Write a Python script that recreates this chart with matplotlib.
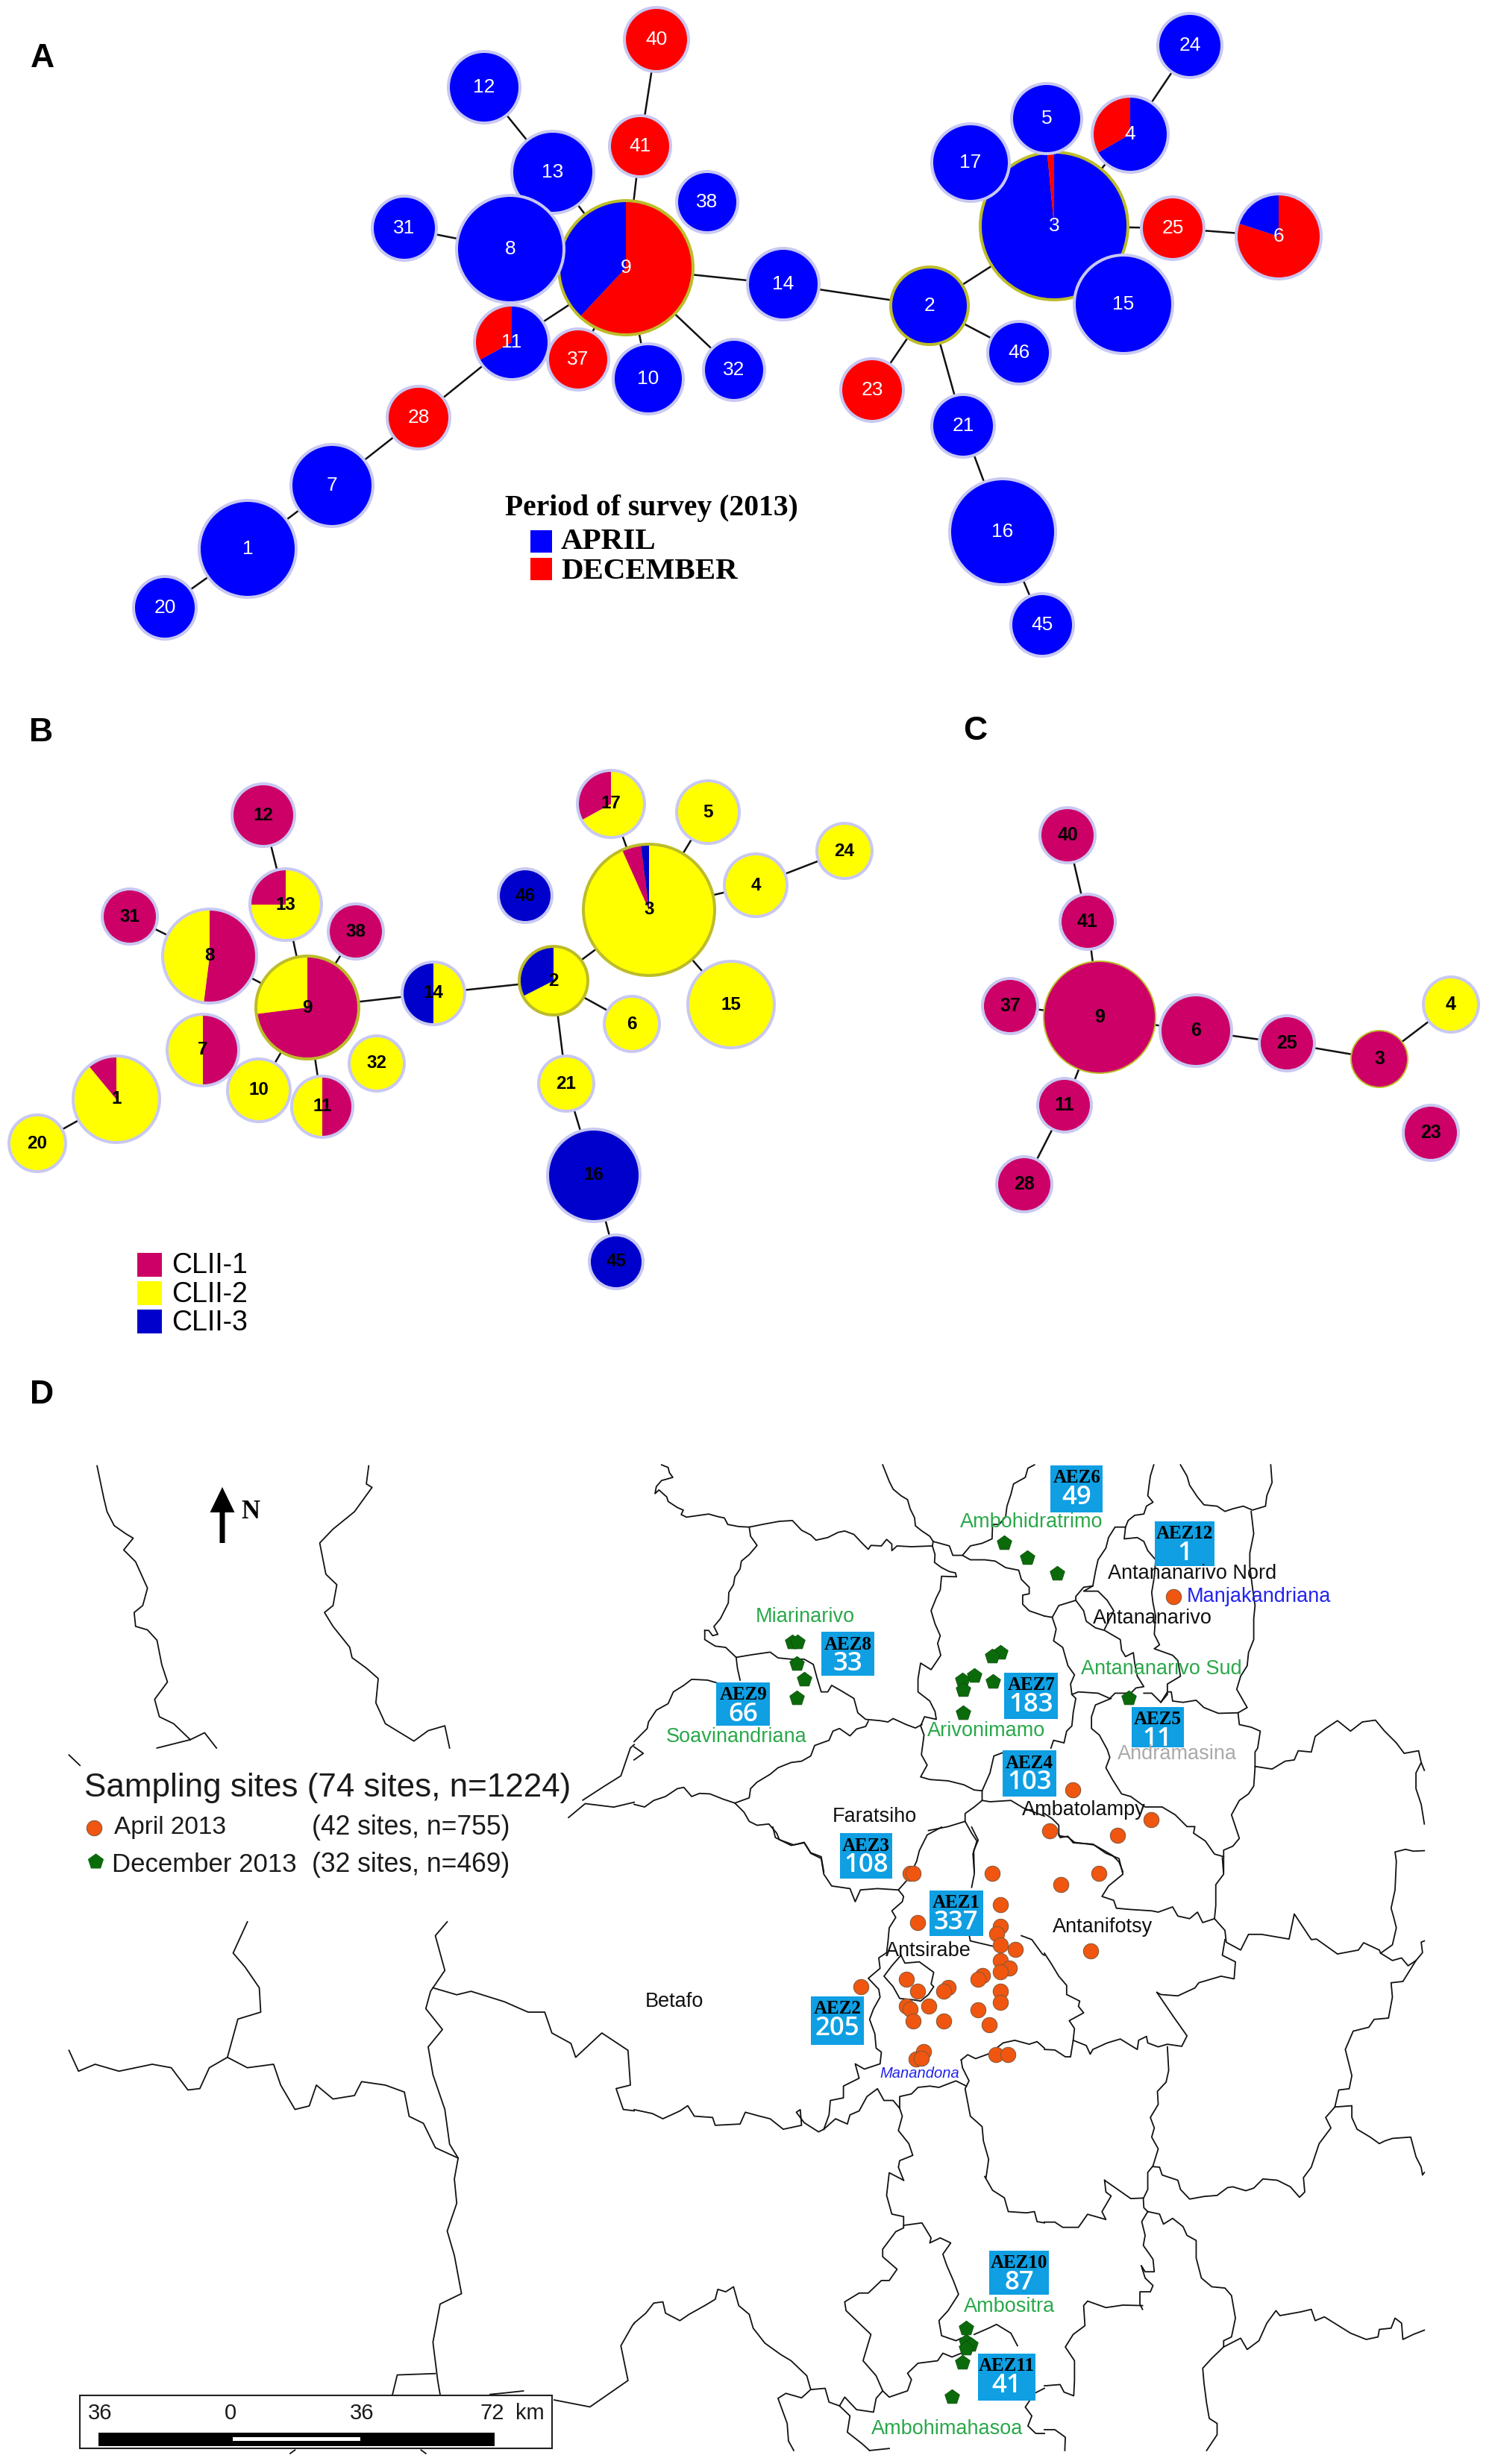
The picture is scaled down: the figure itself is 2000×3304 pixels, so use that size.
import matplotlib
matplotlib.use('Agg')
import matplotlib.pyplot as plt
from matplotlib.patches import Wedge, Circle, Rectangle, FancyArrow

BLUE = '#0000ff'
RED = '#ff0000'
MAGENTA = '#cc0066'
YELLOW = '#ffff00'
DKBLUE = '#0000cc'
RING = '#c8c8f2'
HUB = '#bcbc2a'
AEZ_BLUE = '#0f9fe2'
GREEN_TXT = '#2aa84a'

# ---------------------------------------------------------------- panel A
a_ids = [9, 13, 8, 11, 37, 10, 32, 31, 12, 41, 40, 38, 14, 28, 7, 1, 20,
         3, 5, 17, 4, 24, 25, 6, 15, 2, 46, 23, 21, 16, 45]
a_x = [839, 741, 684, 686, 775, 869, 984, 542, 649, 858, 880, 948, 1050, 561, 445, 332, 221,
       1413, 1403, 1301, 1515, 1595, 1572, 1714, 1506, 1246, 1366, 1169, 1291, 1344, 1397]
a_y = [359, 231, 334, 459, 482, 508, 496, 306, 117, 196, 53, 271, 381, 560, 651, 736, 815,
       303, 159, 218, 180, 61, 306, 317, 408, 410, 473, 523, 571, 713, 838]
a_r = [92, 57, 74, 52, 43, 49, 43, 45, 50, 43, 45, 43, 50, 44, 57, 67, 44,
       101, 49, 54, 53, 45, 44, 59, 68, 54, 44, 44, 44, 73, 44]
a_hubs = [9, 3, 2]
a_parts = {9: [(RED, .62), (BLUE, .38)],
           11: [(BLUE, .67), (RED, .33)],
           3: [(BLUE, .985), (RED, .015)],
           4: [(BLUE, .667), (RED, .333)],
           6: [(RED, .8), (BLUE, .2)],
           41: [(RED, 1)], 40: [(RED, 1)], 37: [(RED, 1)], 28: [(RED, 1)],
           25: [(RED, 1)], 23: [(RED, 1)]}
a_edges = [(20, 1), (1, 7), (7, 28), (28, 11), (11, 9), (9, 37), (9, 10), (9, 32), (9, 41),
           (41, 40), (9, 13), (13, 12), (8, 31), (8, 9), (9, 14), (14, 2), (2, 3), (2, 23),
           (2, 46), (2, 21), (21, 16), (16, 45), (3, 25), (25, 6), (3, 4), (4, 24), (3, 15),
           (3, 5), (3, 17)]

# ---------------------------------------------------------------- panel B
b_ids = [9, 13, 12, 38, 8, 31, 7, 10, 11, 32, 1, 20, 14, 46, 3, 17, 5, 4, 24, 15, 2, 6, 21, 16, 45]
b_x = [412, 383, 353, 477, 281, 174, 272, 347, 432, 505, 156, 50, 581, 704,
       870, 819, 949, 1013, 1132, 980, 742, 847, 759, 796, 826]
b_y = [1351, 1213, 1093, 1249, 1282, 1229, 1408, 1462, 1484, 1426, 1474, 1533, 1332, 1201,
       1220, 1078, 1089, 1187, 1141, 1347, 1315, 1373, 1453, 1576, 1692]
b_r = [71, 50, 44, 39, 65, 39, 50, 44, 43, 39, 60, 40, 44, 38, 90, 47, 44, 44, 39, 60, 48, 39, 39, 64, 38]
b_hubs = [9, 3, 2]
b_parts = {1: [(YELLOW, .89), (MAGENTA, .11)],
           7: [(MAGENTA, .5), (YELLOW, .5)],
           11: [(MAGENTA, .5), (YELLOW, .5)],
           9: [(MAGENTA, .73), (YELLOW, .27)],
           8: [(MAGENTA, .52), (YELLOW, .48)],
           13: [(YELLOW, .75), (MAGENTA, .25)],
           14: [(YELLOW, .5), (DKBLUE, .5)],
           2: [(YELLOW, .675), (DKBLUE, .325)],
           3: [(YELLOW, .933), (MAGENTA, .047), (DKBLUE, .02)],
           17: [(YELLOW, .67), (MAGENTA, .33)],
           12: [(MAGENTA, 1)], 31: [(MAGENTA, 1)], 38: [(MAGENTA, 1)],
           46: [(DKBLUE, 1)], 16: [(DKBLUE, 1)], 45: [(DKBLUE, 1)]}
b_edges = [(20, 1), (8, 31), (8, 9), (9, 13), (13, 12), (9, 38), (9, 10), (9, 11), (9, 14),
           (14, 2), (2, 3), (2, 6), (2, 21), (21, 16), (16, 45), (3, 17), (3, 5), (3, 4),
           (4, 24), (3, 15)]

# ---------------------------------------------------------------- panel C
c_ids = [9, 40, 41, 37, 6, 25, 3, 4, 23, 11, 28]
c_x = [1474, 1431, 1458, 1354, 1603, 1725, 1849, 1945, 1918, 1427, 1373]
c_y = [1364, 1120, 1236, 1349, 1382, 1399, 1420, 1347, 1519, 1482, 1588]
c_r = [76, 39, 39, 39, 50, 39, 39, 39, 39, 38, 39]
c_parts = {i: [(MAGENTA, 1)] for i in c_ids}
c_parts[4] = [(YELLOW, 1)]
c_edges = [(9, 41), (41, 40), (9, 37), (9, 6), (6, 25), (25, 3), (3, 4), (9, 11), (11, 28)]

# ---------------------------------------------------------------- panel D
# boundaries traced off crops of the map, each crop has its own origin and scale (see crops)
west_lines = [
    [(204, 124), (218, 170), (225, 190), (240, 210), (265, 222), (280, 228), (260, 245), (285, 262),
     (310, 300), (300, 325), (282, 335), (285, 355), (310, 360), (330, 375), (340, 410), (352, 435),
     (325, 460), (335, 485), (365, 495), (400, 518)],
    [(330, 530), (400, 518), (430, 508), (455, 530)],
    [(775, 124), (770, 150), (782, 155), (745, 190), (700, 215), (672, 235), (685, 280), (708, 295),
     (700, 325), (682, 335), (700, 355), (735, 385), (740, 400), (770, 415), (795, 430), (790, 465),
     (810, 495), (870, 520), (900, 505), (935, 498), (945, 530)],
    [(145, 540), (168, 555)],
    [(1225, 605), (1270, 585), (1305, 570), (1325, 530), (1333, 525)],
    [(1195, 630), (1230, 610), (1290, 615), (1333, 608)],
    [(520, 780), (490, 825), (515, 845), (545, 875), (548, 910), (500, 920), (478, 975)],
    [(145, 965), (165, 995), (200, 985), (250, 995), (320, 985), (360, 990), (395, 1022), (420, 1020),
     (440, 990), (478, 975), (520, 990), (575, 985), (590, 1015), (620, 1050), (650, 1045), (665, 1015),
     (700, 1035), (745, 1030), (760, 1010), (810, 1015), (850, 1025), (860, 1060), (890, 1070),
     (915, 1105), (963, 1120)],
    [(940, 780), (915, 800), (935, 850), (905, 880), (895, 905), (930, 935), (900, 960), (910, 1000),
     (935, 1050), (945, 1100), (963, 1120), (955, 1150), (960, 1185), (940, 1225), (955, 1260),
     (970, 1315), (925, 1330), (910, 1385), (920, 1440), (925, 1460)],
    [(910, 875), (960, 885), (990, 880), (1060, 895), (1110, 910), (1145, 910), (1160, 940), (1200, 955),
     (1210, 975), (1265, 940), (1320, 965), (1325, 1015), (1295, 1020), (1310, 1050), (1333, 1052)],
    [(825, 1460), (835, 1432), (915, 1430)],
    [(1165, 1468), (1240, 1478), (1320, 1440), (1305, 1390), (1330, 1360), (1333, 1358)],
    [(1030, 1460), (1060, 1458), (1100, 1455)],
    [(610, 1545), (620, 1540)],
    [(885, 1540), (895, 1545)],
]
crop1_lines = [
    [(105, 12), (130, 22), (135, 42), (148, 60), (105, 72), (85, 95), (80, 122), (95, 108), (125, 135), (130, 152),
     (165, 175), (188, 185), (180, 202), (200, 212), (250, 205), (285, 200), (320, 210), (345, 215), (358, 240),
     (400, 248), (440, 250), (500, 238), (555, 228), (605, 225), (640, 262), (675, 280), (695, 300), (740, 290),
     (780, 270), (805, 265), (840, 278), (870, 310), (895, 335), (905, 320), (945, 322), (965, 297), (985, 315),
     (985, 340), (1005, 322), (1060, 325), (1140, 322)],
    [(950, 12), (975, 75), (990, 105), (1020, 130), (1045, 145), (1055, 180), (1072, 215), (1075, 245), (1100, 265),
     (1130, 285), (1143, 305), (1140, 322), (1150, 355), (1148, 385), (1175, 405), (1205, 420), (1228, 425),
     (1232, 440), (1175, 438), (1170, 490), (1155, 520), (1135, 570), (1150, 620), (1170, 665), (1160, 695),
     (1172, 740), (1135, 795), (1095, 770), (1085, 830), (1085, 880), (1130, 915), (1150, 955), (1155, 985),
     (1110, 975), (1095, 1010), (1108, 1045), (1098, 1120), (1120, 1160), (1095, 1205), (1130, 1215), (1200, 1220),
     (1260, 1235), (1300, 1255), (1330, 1258), (1360, 1190), (1375, 1125), (1410, 1112)],
    [(1143, 305), (1205, 322), (1218, 358), (1255, 358), (1285, 322), (1330, 312), (1368, 295), (1370, 240),
     (1395, 240), (1420, 210), (1425, 170), (1440, 125), (1450, 85), (1495, 60), (1505, 25), (1530, 12)],
    [(1255, 358), (1285, 375), (1340, 375), (1380, 380), (1420, 405), (1470, 415), (1480, 450), (1510, 480),
     (1510, 505), (1485, 510), (1485, 545), (1510, 570), (1568, 590)],
    [(270, 645), (285, 645), (300, 665), (320, 660), (305, 630), (330, 600), (345, 570), (360, 540), (362, 500),
     (380, 470), (385, 440), (405, 410), (410, 380), (440, 355), (470, 320), (445, 285), (440, 250)],
    [(270, 645), (270, 680), (310, 705), (350, 710), (390, 748), (450, 738), (520, 728), (550, 750), (600, 755),
     (650, 755), (685, 775), (700, 830), (715, 880), (740, 880), (755, 855), (790, 875), (840, 905), (855, 960),
     (885, 985), (940, 990), (970, 995), (990, 982), (1040, 1005), (1075, 1018), (1100, 1005)],
    [(390, 748), (395, 790), (405, 835)],
    [(895, 992), (885, 1012), (850, 1022), (825, 1048), (785, 1020), (760, 1030), (745, 1065), (690, 1085),
     (675, 1125), (640, 1145), (600, 1150), (550, 1170), (520, 1195), (470, 1225), (445, 1250), (440, 1285), (385, 1305)],
    [(0, 1310), (40, 1320), (75, 1295), (120, 1280), (165, 1250), (190, 1245), (220, 1280), (250, 1268), (290, 1270),
     (340, 1290), (385, 1305), (420, 1340), (440, 1375), (470, 1390), (515, 1385), (545, 1420), (555, 1445),
     (610, 1465), (650, 1455), (675, 1495), (715, 1510), (725, 1568)],
    [(315, 845), (280, 835), (220, 832), (190, 855), (150, 880), (130, 925), (85, 950), (55, 995), (50, 1020),
     (20, 1050), (0, 1070)],
    [(0, 1090), (35, 1115), (0, 1140)],
    [(1330, 1258), (1330, 1295), (1360, 1300), (1440, 1295), (1490, 1325), (1568, 1355)],
    [(1330, 1295), (1300, 1320), (1265, 1345), (1265, 1375), (1200, 1395), (1125, 1410)],
    [(1265, 1375), (1290, 1420), (1310, 1450), (1295, 1500), (1300, 1568)],
]
crop2_lines = [
    [(418, 12), (405, 55), (400, 90), (395, 130), (415, 155), (390, 170), (380, 200), (345, 205), (320, 225), (310, 250),
     (270, 250), (245, 290), (235, 330), (205, 375), (195, 420), (185, 475), (150, 480), (120, 515), (120, 530),
     (55, 550), (30, 595), (0, 590)],
    [(310, 250), (305, 295), (355, 290), (380, 305), (395, 340), (425, 375), (420, 440), (410, 500), (415, 540),
     (425, 590), (420, 660), (440, 700), (420, 715), (490, 740), (510, 760), (520, 820), (470, 850), (470, 890),
     (445, 920), (410, 885), (380, 885)],
    [(185, 475), (150, 495), (205, 495), (240, 530), (265, 570), (245, 610), (230, 640)],
    [(120, 530), (150, 570), (160, 610), (195, 635), (230, 645), (290, 680), (295, 720), (310, 745), (340, 730),
     (345, 770), (355, 820), (380, 860), (350, 865), (330, 885), (270, 885), (250, 905), (205, 885), (130, 880),
     (105, 890), (100, 850), (115, 815), (90, 780), (70, 710), (35, 685), (45, 640), (30, 595)],
    [(105, 890), (120, 905), (110, 960), (105, 1010), (85, 1030), (75, 1075), (35, 1065), (25, 1095)],
    [(255, 905), (195, 930), (180, 975), (180, 1020), (210, 1045), (240, 1100), (250, 1130), (235, 1170), (260, 1215),
     (295, 1270), (330, 1280), (385, 1320), (450, 1320), (500, 1350), (545, 1395), (575, 1395), (570, 1420),
     (615, 1450), (650, 1500), (685, 1510)],
    [(445, 920), (470, 880), (485, 880), (490, 915), (530, 920), (580, 912), (610, 940), (665, 962), (740, 960),
     (775, 940), (755, 905), (735, 870), (750, 820), (775, 780), (780, 730), (800, 680), (800, 600), (805, 550),
     (795, 480), (785, 400), (785, 350), (800, 275), (790, 190)],
    [(520, 12), (545, 55), (555, 90), (585, 135), (610, 165), (660, 170), (690, 190), (720, 180), (760, 170),
     (795, 185), (845, 170), (850, 130), (870, 80), (865, 12)],
    [(740, 960), (745, 1005), (790, 1015), (825, 1030), (815, 1095), (805, 1110), (805, 1170), (800, 1240), (780, 1270),
     (745, 1295), (715, 1350), (745, 1440), (720, 1470), (685, 1485), (685, 1568)],
    [(805, 1165), (870, 1175), (920, 1145), (955, 1140), (970, 1105), (1020, 1110), (1035, 1050), (1075, 1020),
     (1120, 990), (1170, 1030), (1215, 995), (1265, 988), (1300, 1030), (1345, 1075), (1375, 1115), (1430, 1105),
     (1440, 1150), (1452, 1180)],
    [(1440, 1150), (1420, 1190), (1420, 1250), (1440, 1310), (1452, 1385)],
    [(0, 1345), (30, 1365), (55, 1390), (55, 1430), (90, 1435), (115, 1455), (190, 1465), (260, 1505), (285, 1530), (300, 1568)],
]
crop3_lines = [
    [(530, 0), (540, 40), (600, 70), (650, 60), (675, 100), (715, 120), (725, 180), (755, 225), (825, 235), (845, 285),
     (865, 240), (930, 235), (1010, 240), (1030, 265), (1025, 285), (985, 320), (1000, 345), (975, 385), (970, 440),
     (965, 480), (935, 500), (940, 540), (895, 578), (935, 620), (940, 650), (915, 695), (900, 735), (920, 790),
     (925, 845), (945, 860), (940, 905), (880, 925), (845, 905), (860, 960), (800, 990), (800, 1035), (750, 1045),
     (745, 1100), (725, 1155)],
    [(1010, 240), (1050, 195), (1080, 130), (1090, 90), (1120, 30), (1175, 0)],
    [(1290, 0), (1315, 50), (1298, 90), (1300, 180), (1290, 230)],
    [(1280, 410), (1285, 435), (1370, 455)],
    [(1480, 415), (1520, 430), (1560, 485), (1568, 490)],
    [(725, 1155), (705, 1165), (650, 1130), (620, 1090), (635, 1080), (640, 1140), (570, 1155), (520, 1115), (480, 1105),
     (425, 1090), (405, 1135), (310, 1140), (300, 1110), (230, 1105), (205, 1065), (175, 1085), (110, 1115), (70, 1095), (0, 1080)],
    [(725, 1155), (770, 1115), (815, 1135), (825, 1100), (860, 1085), (890, 1030), (930, 1000), (955, 1045), (990, 1045),
     (1015, 1075), (1025, 1105), (1010, 1160), (1050, 1210), (1065, 1255), (1015, 1275), (1010, 1300), (1030, 1350)],
    [(1015, 1075), (1015, 1030), (1060, 1020), (1085, 995), (1130, 990), (1165, 995), (1230, 970), (1270, 990)],
    [(1250, 890), (1255, 920), (1280, 970), (1265, 1000), (1285, 1105), (1330, 1145), (1335, 1200), (1355, 1270), (1345, 1340)],
    [(1250, 890), (1275, 870), (1305, 885), (1360, 865), (1410, 825), (1455, 815), (1510, 830), (1540, 820), (1568, 845)],
    [(1020, 490), (1035, 520), (1090, 515), (1145, 555), (1135, 600), (1145, 610), (1125, 640), (1095, 665), (1065, 660),
     (1015, 655), (990, 610), (955, 570), (985, 530), (1020, 490)],
]
crop4_lines = [
    [(55, 25), (60, 40), (90, 35), (110, 60), (185, 65), (235, 100), (285, 120), (300, 180), (245, 225), (220, 265),
     (265, 280), (275, 310), (330, 315), (410, 320), (435, 325), (490, 305), (510, 340), (555, 350), (585, 325),
     (605, 365), (650, 350), (690, 395), (695, 440), (750, 470), (780, 410), (830, 410), (935, 428), (955, 332),
     (1020, 430), (1040, 428), (1120, 485), (1200, 470), (1220, 442), (1280, 470), (1285, 482), (1330, 510), (1365, 500),
     (1390, 530), (1420, 510), (1445, 480), (1440, 440), (1452, 435)],
    [(650, 350), (655, 300), (655, 220), (685, 180), (680, 118)],
    [(690, 430), (680, 490), (730, 515), (725, 580), (675, 570), (590, 595), (575, 615), (510, 645), (445, 640), (430, 632)],
    [(430, 632), (490, 720), (545, 798), (525, 838), (470, 830), (435, 840), (395, 825), (390, 800), (360, 815), (355, 850),
     (290, 810), (240, 825), (185, 850), (175, 868), (160, 835), (110, 815), (100, 878), (80, 878), (40, 852), (0, 850)],
    [(0, 482), (25, 520), (55, 570), (85, 605), (85, 640), (135, 665), (130, 685), (150, 710), (95, 740), (115, 770), (110, 815)],
    [(470, 840), (475, 930), (465, 975), (432, 1010), (435, 1060), (405, 1110), (420, 1150), (410, 1185), (435, 1230),
     (415, 1295), (395, 1320), (395, 1385), (378, 1420), (380, 1455), (395, 1470)],
    [(415, 1298), (440, 1300), (450, 1330), (510, 1350), (520, 1385), (555, 1422), (610, 1412), (660, 1408), (700, 1378),
     (720, 1375), (770, 1390), (800, 1380), (835, 1345), (890, 1350), (940, 1375), (975, 1415), (995, 1395), (990, 1340),
     (1020, 1300), (1050, 1210), (1095, 1150), (1075, 1110), (1110, 1070), (1125, 1005), (1165, 1000), (1175, 950),
     (1150, 850), (1180, 780), (1240, 765), (1260, 735), (1315, 730), (1330, 650), (1325, 595), (1370, 590), (1420, 510)],
    [(1110, 1070), (1175, 1065), (1175, 1110), (1195, 1155), (1245, 1185), (1280, 1210), (1300, 1200), (1330, 1190),
     (1400, 1185), (1420, 1260), (1440, 1300), (1445, 1330), (1452, 1320)],
    [(1285, 482), (1330, 450), (1345, 385), (1335, 345), (1325, 310), (1340, 240), (1345, 130), (1340, 95), (1380, 85),
     (1410, 92), (1452, 90)],
    [(230, 1350), (235, 1395), (255, 1410), (220, 1470), (235, 1500), (165, 1480), (130, 1530), (70, 1530), (40, 1510), (0, 1510)],
    [(230, 1350), (280, 1385), (330, 1420), (378, 1418)],
]
crop5_lines = [
    [(1030, 70), (975, 40), (965, 130), (985, 205), (1030, 215), (1030, 260), (1000, 275), (950, 345), (950, 375), (1005, 425),
     (975, 470), (945, 470), (895, 520), (860, 520), (805, 555), (810, 590), (905, 685), (875, 790), (925, 850), (950, 910),
     (925, 940), (915, 995), (850, 985), (805, 935), (785, 970)],
    [(1030, 250), (1100, 240), (1135, 300), (1130, 320), (1170, 300), (1210, 320), (1180, 365), (1195, 410), (1220, 470),
     (1240, 525), (1200, 590), (1165, 630), (1175, 690), (1230, 710), (1250, 700)],
    [(1340, 55), (1370, 110), (1415, 140), (1430, 195), (1500, 200), (1530, 195), (1540, 235), (1568, 240)],
    [(1250, 760), (1215, 775), (1180, 760), (1160, 790), (1085, 800), (1045, 840), (1060, 865), (1045, 910), (975, 935), (950, 910)],
    [(1300, 685), (1355, 660), (1385, 645), (1440, 680), (1465, 730)],
    [(0, 640), (45, 600), (75, 560), (110, 555), (120, 600), (175, 630), (210, 605), (270, 570), (310, 545), (320, 505),
     (350, 515), (380, 495), (400, 570), (440, 605), (455, 660), (500, 720), (560, 765), (600, 790), (660, 850), (675, 905),
     (730, 900), (745, 955), (785, 970), (825, 1010), (815, 1075), (870, 1120), (900, 1148)],
    [(900, 1148), (975, 1140)],
    [(675, 905), (640, 938), (580, 920), (550, 940), (585, 1040), (590, 1110), (610, 1148)],
    [(1568, 900), (1530, 920), (1495, 975), (1520, 1010), (1505, 1050), (1535, 1080), (1568, 1080)],
]
crop6_lines = [
    [(395, 195), (440, 205), (455, 245), (490, 222), (530, 255), (545, 290), (580, 310), (580, 380), (600, 460), (640, 495),
     (690, 500), (715, 530), (730, 620), (715, 695), (685, 710), (685, 735), (640, 780), (605, 820), (610, 880), (620, 960),
     (630, 1020), (660, 1040), (660, 1085), (620, 1148)],
    [(395, 195), (372, 235), (385, 290), (378, 330), (415, 385), (420, 435), (385, 435), (370, 410), (385, 460), (415, 490),
     (405, 515), (365, 515), (365, 565), (375, 585)],
    [(375, 570), (300, 568), (235, 578), (165, 552), (150, 570), (155, 650), (110, 685), (80, 735), (115, 790), (115, 870),
     (112, 930), (75, 915), (60, 885), (0, 890)],
    [(685, 735), (750, 700), (775, 745), (820, 710), (850, 640), (885, 590), (900, 610), (980, 595), (1020, 585), (1035, 630),
     (1070, 615), (1170, 680), (1230, 705), (1275, 695), (1280, 665), (1325, 660), (1340, 620), (1365, 640), (1370, 705),
     (1410, 685), (1452, 668)],
    [(0, 1065), (40, 1065), (80, 1095), (78, 1148)],
]
# crop origin x, origin y, scale x, scale y
crops = [(west_lines, 0, 1850, 1.568, 1.073),
         (crop1_lines, 850, 1960, 2.851, 2.851),
         (crop2_lines, 1400, 1960, 2.851, 2.851),
         (crop3_lines, 850, 2450, 2.851, 2.851),
         (crop4_lines, 1400, 2450, 2.851, 2.851),
         (crop5_lines, 850, 2900, 2.851, 2.975),
         (crop6_lines, 1400, 2900, 2.851, 2.975)]

april_x = [898, 686, 852, 638, 781, 345, 352, 518, 741, 662, 535, 360, 535, 527, 535, 566, 725, 535, 553, 535,
           497, 487, 337, 425, 415, 360, 535, 241, 535, 337, 345, 384, 487, 352, 416, 511, 373, 358, 368, 526, 551]
april_y = [268, 555, 600, 617, 623, 680, 680, 680, 680, 697, 727, 753, 759, 770, 787, 793, 796, 810, 821, 827,
           832, 838, 838, 850, 855, 855, 855, 849, 872, 878, 882, 878, 883, 900, 900, 906, 946, 957, 955, 950, 950]
dec_x = [543, 591, 654, 97, 108, 107, 122, 107, 535, 517, 480, 519, 455, 456, 456, 805, 463, 463, 472, 463, 455, 432]
dec_y = [188, 210, 233, 335, 335, 368, 391, 419, 351, 357, 385, 394, 392, 407, 441, 419, 1358, 1378, 1382, 1388, 1409, 1460]

aez_names = ['AEZ6', 'AEZ12', 'AEZ8', 'AEZ7', 'AEZ9', 'AEZ5', 'AEZ4', 'AEZ3', 'AEZ1', 'AEZ2', 'AEZ10', 'AEZ11']
aez_counts = ['49', '1', '33', '183', '66', '11', '103', '108', '337', '205', '87', '41']
aez_x0 = [640, 860, 158, 543, -62, 810, 540, 197, 385, 137, 511, 487]
aez_x1 = [750, 985, 270, 656, 50, 920, 652, 307, 498, 248, 637, 608]
aez_y0 = [72, 155, 320, 381, 395, 432, 497, 620, 705, 863, 1242, 1395]
aez_y1 = [142, 222, 385, 450, 460, 492, 565, 688, 773, 935, 1308, 1465]

place_green = [('Ambohidratrimo', 600, 157), ('Miarinarivo', 125, 298), ('Arivonimamo', 505, 468),
               ('Antananarivo Sud', 873, 376), ('Ambositra', 553, 1325), ('Ambohimahasoa', 423, 1508),
               ('Soavinandriana', -20, 477)]
place_black = [('Antananarivo Nord', 938, 233), ('Antananarivo', 855, 300), ('Ambatolampy', 710, 585),
               ('Faratsiho', 270, 595), ('Antanifotsy', 750, 760), ('Antsirabe', 383, 795)]


def east_px(p):
    return 1000 + p[0] / 1.568, 1900 + p[1] / 1.111


def draw_net(ax, ids, xs, ys, rs, parts, edges, default, hubs, hub_w, txt, fsize, weight):
    pos = {i: (x, y) for i, x, y in zip(ids, xs, ys)}
    for a, b in edges:
        ax.plot([pos[a][0], pos[b][0]], [pos[a][1], pos[b][1]], color='#111111', lw=1.8, zorder=1)
    z = 2
    for i, x, y, r in zip(ids, xs, ys, rs):
        edge = HUB if i in hubs else RING
        w = hub_w if i in hubs else 4
        ax.add_patch(Circle((x, y), r, fc=edge, ec='none', zorder=z))
        start = -90
        for col, frac in parts.get(i, [(default, 1)]):
            ax.add_patch(Wedge((x, y), r - w, start, start + 360 * frac, fc=col, ec='none', zorder=z + 0.5))
            start += 360 * frac
        z += 1
    for i, x, y in zip(ids, xs, ys):
        ax.text(x, y, str(i), color=txt, family='Liberation Sans', fontsize=fsize, fontweight=weight,
                ha='center', va='center', zorder=100)


fig = plt.figure(figsize=(20, 33.04), dpi=100)
ax = fig.add_axes([0, 0, 1, 1])
ax.set_xlim(0, 2000)
ax.set_ylim(3304, 0)
ax.axis('off')

draw_net(ax, a_ids, a_x, a_y, a_r, a_parts, a_edges, BLUE, a_hubs, 4, 'white', 19, 'normal')
draw_net(ax, b_ids, b_x, b_y, b_r, b_parts, b_edges, YELLOW, b_hubs, 4, 'black', 17.5, 'bold')
draw_net(ax, c_ids, c_x, c_y, c_r, c_parts, c_edges, MAGENTA, [9, 3], 2, 'black', 18, 'bold')

for lab, x, y in [('A', 57, 78), ('B', 55, 982), ('C', 1307, 981), ('D', 56, 1870)]:
    ax.text(x, y, lab, family='Liberation Sans', fontweight='bold', fontsize=32, ha='center', va='center')

# legends of the networks
ax.text(677, 681, 'Period of survey (2013)', family='Liberation Serif', fontweight='bold', fontsize=28.5, va='center')
ax.add_patch(Rectangle((711, 711), 29, 30, fc=BLUE, ec='none'))
ax.add_patch(Rectangle((711, 748), 29, 30, fc=RED, ec='none'))
ax.text(752, 726, 'APRIL', family='Liberation Serif', fontweight='bold', fontsize=29.5, va='center')
ax.text(752, 766, 'DECEMBER', family='Liberation Serif', fontweight='bold', fontsize=29.5, va='center')

for y0, col, lab, yt in [(1680, MAGENTA, 'CLII-1', 1697), (1718, YELLOW, 'CLII-2', 1736), (1756, DKBLUE, 'CLII-3', 1774)]:
    ax.add_patch(Rectangle((184, y0), 33, 32, fc=col, ec='none'))
    ax.text(230, yt, lab, family='Liberation Sans', fontsize=27, va='center')

# map
for lines, ox, oy, sx, sy in crops:
    for line in lines:
        ax.plot([ox + p[0] / sx for p in line], [oy + p[1] / sy for p in line], color='#111111', lw=1.3,
                solid_joinstyle='round', zorder=1)

for name, count, x0, x1, y0, y1 in zip(aez_names, aez_counts, aez_x0, aez_x1, aez_y0, aez_y1):
    xa, ya = east_px((x0, y0))
    xb, yb = east_px((x1, y1))
    ax.add_patch(Rectangle((xa, ya), xb - xa, yb - ya, fc=AEZ_BLUE, ec='none', zorder=3))
    xm = (xa + xb) / 2
    ax.text(xm, ya + 17, name, family='Liberation Serif', fontweight='bold', fontsize=18, ha='center', va='center', zorder=4)
    ax.text(xm, ya + 43, count, family='Open Sans', fontweight='semibold', color='white', fontsize=25, ha='center', va='center', zorder=4)

for lab, x, y in place_green:
    px, py = east_px((x, y))
    ax.text(px, py, lab, family='Liberation Sans', color=GREEN_TXT, fontsize=19.5, ha='center', va='center', zorder=5)
for lab, x, y in place_black:
    px, py = east_px((x, y))
    ax.text(px, py, lab, family='Liberation Sans', color='#111111', fontsize=19.5, ha='center', va='center', zorder=5)
px, py = east_px((1078, 268))
ax.text(px, py, 'Manjakandriana', family='Liberation Sans', color='#2222ee', fontsize=19.5, ha='center', va='center', zorder=5)
px, py = east_px((365, 978))
ax.text(px, py, 'Manandona', family='Liberation Sans', style='italic', color='#2222ee', fontsize=14.5, ha='center', va='center', zorder=5)
px, py = east_px((907, 502))
ax.text(px, py, 'Andramasina', family='Liberation Sans', color='#aaaaaa', fontsize=19.5, ha='center', va='center', zorder=5)
ax.text(904, 2684, 'Betafo', family='Liberation Sans', color='#111111', fontsize=19.5, ha='center', va='center', zorder=5)

pts = [east_px(p) for p in zip(april_x, april_y)]
ax.scatter([p[0] for p in pts], [p[1] for p in pts], s=215, c='#f0560f', edgecolors='#8a5a3a', linewidths=0.8, zorder=6)
pts = [east_px(p) for p in zip(dec_x, dec_y)]
ax.scatter([p[0] for p in pts], [p[1] for p in pts], s=220, c='#0b6b0b', marker='p', edgecolors='#0b4f0b', linewidths=0.6, zorder=7)

# legend of the map
ax.text(113, 2397, 'Sampling sites (74 sites, n=1224)', family='Liberation Sans', fontsize=31.7, va='center', color='#1a1a1a')
ax.scatter([126], [2451], s=215, c='#f0560f', edgecolors='#8a5a3a', linewidths=0.8, zorder=6)
ax.scatter([128], [2496], s=220, c='#0b6b0b', marker='p', zorder=7)
ax.text(153, 2451, 'April 2013', family='Liberation Sans', fontsize=24, va='center', color='#1a1a1a')
ax.text(150, 2500, 'December 2013', family='Liberation Sans', fontsize=25, va='center', color='#1a1a1a')
ax.text(418, 2451, '(42 sites, n=755)', family='Liberation Sans', fontsize=25.6, va='center', color='#1a1a1a')
ax.text(418, 2500, '(32 sites, n=469)', family='Liberation Sans', fontsize=25.6, va='center', color='#1a1a1a')

# north arrow
ax.add_patch(FancyArrow(298, 2069, 0, -75, width=7, head_width=33, head_length=34,
                        length_includes_head=True, fc='black', ec='black', lw=0))
ax.text(336, 2027, 'N', family='Liberation Serif', fontweight='bold', fontsize=25, ha='center', va='center')

# scale bar
ax.add_patch(Rectangle((107, 3212), 633, 71, fc='white', ec='#222222', lw=1.5, zorder=8))
ax.add_patch(Rectangle((132, 3262), 531, 18, fc='black', ec='black', lw=0, zorder=9))
ax.add_patch(Rectangle((312, 3268), 171, 5, fc='white', ec='none', zorder=10))
for lab, x in [('36', 134), ('0', 309), ('36', 485), ('72', 660), ('km', 710)]:
    ax.text(x, 3236, lab, family='Liberation Sans', fontsize=21, ha='center', va='center', color='#1a1a1a', zorder=11)

fig.savefig('out.png', dpi=100, facecolor='white')
